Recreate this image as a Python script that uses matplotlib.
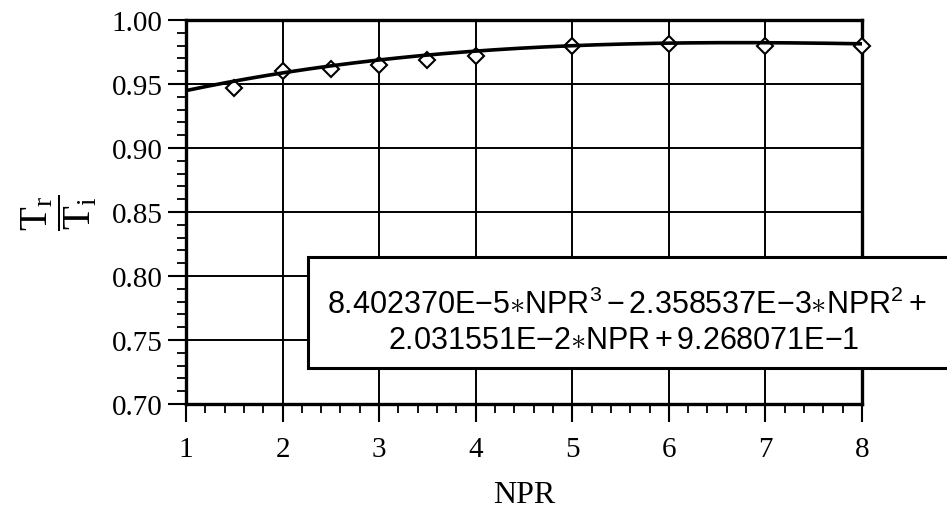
import matplotlib
matplotlib.use('Agg')
import matplotlib.pyplot as plt
import numpy as np
from matplotlib.patches import Rectangle
from matplotlib.ticker import MultipleLocator

# measured temperature ratio vs. nozzle pressure ratio
npr = [1.5, 2, 2.5, 3, 3.5, 4, 5, 6, 7, 8]
t_ratio = [0.947, 0.960, 0.962, 0.965, 0.969, 0.972, 0.980, 0.981, 0.980, 0.980]

# cubic fit, highest power first
fit_coef = [8.402370e-5, -2.358537e-3, 2.031551e-2, 9.268071e-1]

x_ticks = [1, 2, 3, 4, 5, 6, 7, 8]
y_ticks = [0.70, 0.75, 0.80, 0.85, 0.90, 0.95, 1.00]

plt.rcParams['font.family'] = ['Liberation Serif', 'DejaVu Serif']
plt.rcParams['mathtext.fontset'] = 'custom'
plt.rcParams['mathtext.rm'] = 'Liberation Serif'
plt.rcParams['mathtext.it'] = 'Liberation Serif:italic'
plt.rcParams['mathtext.sf'] = 'Liberation Sans'

fig = plt.figure(figsize=(9.47, 5.1), dpi=100)
ax = fig.add_axes([0.1964, 0.2059, 0.7138, 0.7529])

xs = np.linspace(x_ticks[0], x_ticks[-1], 300)
ax.plot(npr, t_ratio, linestyle='none', marker='D', ms=8.5, mfc='white',
        mec='black', mew=1.5, zorder=3, clip_on=False)
ax.plot(xs, np.polyval(fit_coef, xs), color='black', lw=2.6, zorder=4)

ax.set_xlim(x_ticks[0], x_ticks[-1])
ax.set_ylim(y_ticks[0], y_ticks[-1])
ax.set_xticks(x_ticks)
ax.set_yticks(y_ticks)
ax.set_yticklabels(['%.2f' % v for v in y_ticks])
ax.xaxis.set_minor_locator(MultipleLocator(0.2))
ax.yaxis.set_minor_locator(MultipleLocator(0.01))

ax.tick_params(which='major', direction='out', length=13, width=1.5, color='black')
ax.tick_params(which='minor', direction='out', length=6.5, width=1.3, color='black')
ax.tick_params(axis='x', which='major', labelsize=21, pad=10)
ax.tick_params(axis='y', which='major', labelsize=21, pad=4)

ax.grid(True, which='major', color='black', lw=1.4)
ax.set_axisbelow(True)
for s in ax.spines.values():
    s.set_linewidth(2.4)

ax.set_xlabel('NPR', fontsize=23)
ax.xaxis.set_label_coords(0.5, -0.197)
ax.xaxis.label.set_va('top')

ax.set_ylabel(r'$\dfrac{\mathrm{T}_\mathrm{r}}{\mathrm{T}_\mathrm{i}}$', fontsize=28,
              va='center', ha='center', rotation_mode='default')
ax.yaxis.set_label_coords(-0.188, 0.50)

# equation box, runs off the right edge of the figure
box = Rectangle((308 / 947, 1 - 369 / 510), 0.72, 111 / 510, transform=fig.transFigure,
                facecolor='white', edgecolor='black', lw=2.2, zorder=10, clip_on=False)
fig.add_artist(box)

line1 = r'$\mathsf{8.402370E{-}5{\ast}NPR^3 - 2.358537E{-}3{\ast}NPR^2 +}$'
line2 = r'$\mathsf{2.031551E{-}2{\ast}NPR + 9.268071E{-}1}$'
fig.text(627 / 947, 1 - 314 / 510, line1, fontsize=22, ha='center', va='baseline', zorder=11)
fig.text(624 / 947, 1 - 349 / 510, line2, fontsize=22, ha='center', va='baseline', zorder=11)

fig.savefig('out.png', dpi=100)
